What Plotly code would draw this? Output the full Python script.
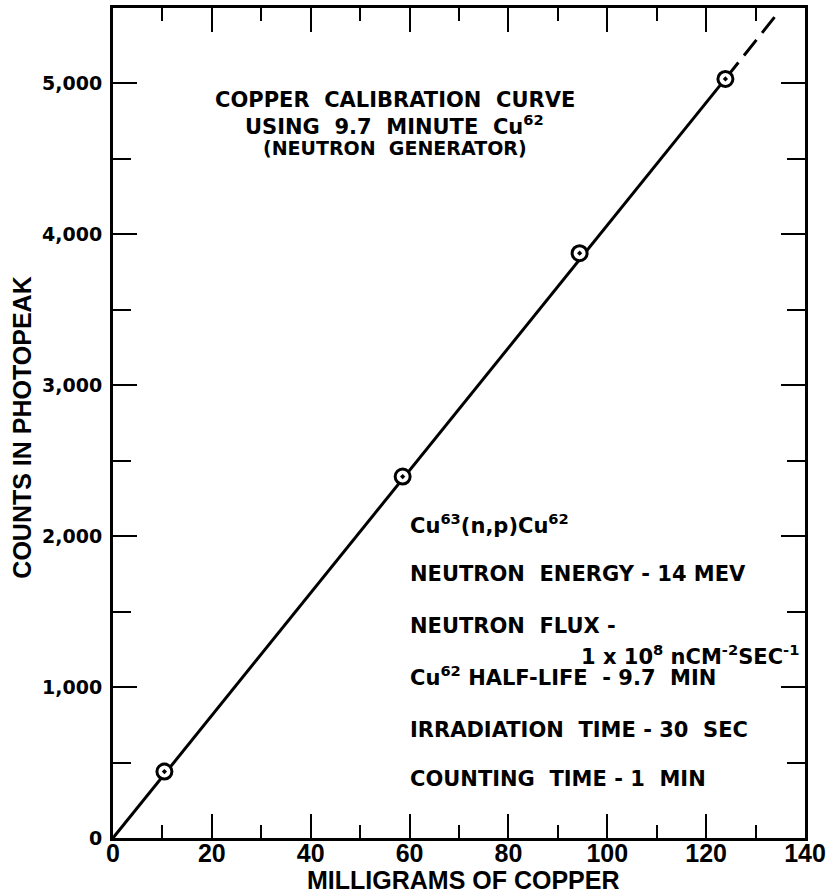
import plotly.graph_objects as go

# Measured calibration points
copper_mg = [10.4, 58.6, 94.4, 123.9]
photopeak_counts = [440, 2395, 3875, 5030]

# Calibration line (solid over the measured range, dashed beyond)
fit_mg = [0, 124.0]
fit_counts = [0, 5035]
ext_mg = [124.0, 134.1]
ext_counts = [5035, 5450]

x_ticks = [0, 20, 40, 60, 80, 100, 120, 140]
y_ticks = [0, 1000, 2000, 3000, 4000, 5000]

LETTER = "DejaVu Sans, Arial, sans-serif"
NARROW = "Liberation Sans, Arial, sans-serif"

fig = go.Figure()
fig.add_trace(go.Scatter(x=fit_mg, y=fit_counts, mode="lines",
                         line=dict(color="black", width=3), hoverinfo="skip"))
fig.add_trace(go.Scatter(x=ext_mg, y=ext_counts, mode="lines",
                         line=dict(color="black", width=3, dash="20px,9px"),
                         hoverinfo="skip"))
fig.add_trace(go.Scatter(x=copper_mg, y=photopeak_counts, mode="markers",
                         marker=dict(symbol="circle-dot", size=15, color="white",
                                     line=dict(color="black", width=3))))

axis_common = dict(
    showgrid=False, zeroline=False, showline=True, linecolor="black",
    linewidth=3, mirror="ticks", ticks="inside", tickcolor="black",
    tickwidth=2, ticklen=24, ticklabeloverflow="allow", automargin=False,
)

fig.update_xaxes(
    range=[0, 140], tickvals=x_ticks, ticktext=[str(v) for v in x_ticks],
    tickfont=dict(family=NARROW, size=25, color="black", weight="bold"),
    ticklabelstandoff=-9,
    minor=dict(dtick=10, ticks="inside", ticklen=13, tickwidth=2, tickcolor="black"),
    **axis_common,
)
fig.update_yaxes(
    range=[0, 5500], tickvals=y_ticks, tickformat=",d",
    tickfont=dict(family=LETTER, size=19, color="black", weight="bold"),
    ticklabelstandoff=4,
    minor=dict(dtick=500, ticks="inside", ticklen=18, tickwidth=2, tickcolor="black"),
    **axis_common,
)

ann = []
# Axis titles
ann.append(dict(text="<b>MILLIGRAMS OF COPPER</b>", xref="paper", yref="paper",
                x=0.506, y=-0.051, xanchor="center", yanchor="middle",
                showarrow=False,
                font=dict(family=NARROW, size=25, color="black")))
ann.append(dict(text="<b>COUNTS IN PHOTOPEAK</b>", xref="paper", yref="paper",
                x=-0.132, y=0.494, xanchor="center", yanchor="middle",
                showarrow=False, textangle=-90,
                font=dict(family=NARROW, size=25, color="black")))

# Chart heading
head_font = dict(family=LETTER, size=21, color="black", weight="bold")
ann.append(dict(text="COPPER  CALIBRATION  CURVE", x=57, y=4892,
                showarrow=False, font=head_font))
ann.append(dict(text="USING  9.7  MINUTE  Cu<sup>62</sup>", x=57, y=4722,
                showarrow=False, font=head_font))
ann.append(dict(text="(NEUTRON  GENERATOR)", x=57, y=4574,
                showarrow=False,
                font=dict(family=LETTER, size=19, color="black", weight="bold")))

# Experimental conditions
info_font = dict(family=LETTER, size=21, color="black", weight="bold")
info_lines = [
    ("Cu<sup>63</sup>(n,p)Cu<sup>62</sup>", 2080),
    ("NEUTRON  ENERGY - 14 MEV", 1750),
    ("NEUTRON  FLUX -", 1406),
    ("Cu<sup>62</sup> HALF-LIFE  - 9.7  MIN", 1075),
    ("IRRADIATION  TIME - 30  SEC", 716),
    ("COUNTING  TIME - 1  MIN", 391),
]
for txt, yv in info_lines:
    ann.append(dict(text=txt, x=59.7, y=yv, xanchor="left", showarrow=False,
                    font=info_font))
ann.append(dict(text="1 x 10<sup>8</sup> nCM<sup>-2</sup>SEC<sup>-1</sup>",
                x=139.2, y=1214, xanchor="right", showarrow=False, font=info_font))

fig.update_layout(
    template="none",
    width=826, height=894,
    margin=dict(l=113, r=21, t=8, b=56),
    paper_bgcolor="white", plot_bgcolor="white",
    showlegend=False, annotations=ann,
)

fig.write_html("out.html")
